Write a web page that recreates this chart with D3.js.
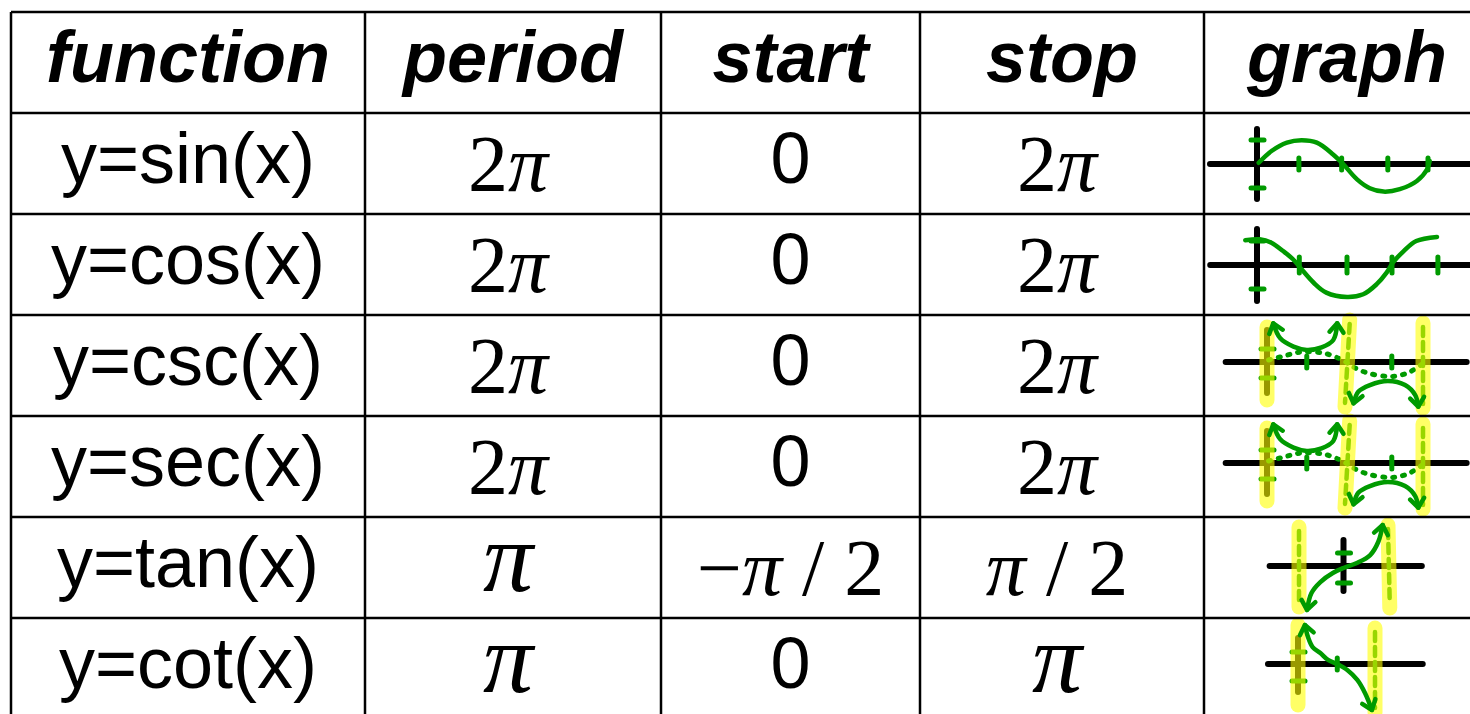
<!DOCTYPE html>
<html>
<head>
<meta charset="utf-8">
<script src="https://cdn.jsdelivr.net/npm/d3@7"></script>
<style>
  body { margin: 0; background: #fff; overflow: hidden; }
  text { white-space: pre; }
</style>
</head>
<body>
<div id="holder"></div>
<script>
const w = 1470;
const h = 714;

// TABLE DATA
const headers = ["function", "period", "start", "stop", "graph"];
const functions = ["y=sin(x)", "y=cos(x)", "y=csc(x)", "y=sec(x)", "y=tan(x)", "y=cot(x)"];
const periods = ["2π", "2π", "2π", "2π", "π", "π"];
const starts = ["0", "0", "0", "0", "−π / 2", "0"];
const stops = ["2π", "2π", "2π", "2π", "π / 2", "π"];

// SKETCH DATA (x in multiples of π, y in function units)
const sinCurve = [[0.02,0.05],[0.17,0.54],[0.35,0.89],[0.52,0.99],[0.70,0.89],[0.89,0.40],[1.01,-0.01],
  [1.17,-0.64],[1.32,-1.01],[1.48,-1.15],[1.67,-1.05],[1.87,-0.71],[1.99,-0.22],[2.02,0.13]];
const sinXTicks = [0.49, 0.99, 1.53, 2.0];
const sinYTicks = [1, -1];

const cosCurve = [[-0.13,1.03],[0.03,1.07],[0.16,0.93],[0.29,0.58],[0.40,0.24],[0.48,-0.11],[0.63,-0.74],
  [0.77,-1.15],[1.0,-1.33],[1.18,-1.22],[1.33,-0.8],[1.44,-0.32],[1.51,0.1],[1.63,0.58],[1.77,1.0],[2.0,1.17]];
const cosXTicks = [0.47, 1.0, 1.5, 2.01];
const cosYTicks = [1, -1];

// csc and sec were drawn the same way in the picture
const cscGuide = [[0.02,0.14],[0.21,0.4],[0.42,0.68],[0.72,0.62],[0.98,0.1],[1.09,-0.3],[1.28,-0.74],
  [1.58,-1.0],[1.81,-0.74],[2.0,-0.1]];
const cscUpper = [[0.08,2.67],[0.17,1.63],[0.34,1.06],[0.51,0.83],[0.7,1.01],[0.85,1.52],[0.9,2.67]];
const cscLower = [[1.11,-2.85],[1.17,-2.05],[1.32,-1.59],[1.55,-1.31],[1.77,-1.59],[1.9,-2.28],[1.94,-3.08]];
const cscXTicks = [0.51, 1.6];
const cscYTicks = [0.9, -1.1];
const cscBars = [[0, 2.41, 0, -2.62], [1.06, 2.9, 1.0, -3.1], [2.0, 2.69, 2.0, -3.17]];

const tanCurve = [[-0.41,-2.93],[-0.36,-1.8],[-0.26,-1.07],[-0.12,-0.47],[0,-0.13],[0.15,0.2],
  [0.3,0.73],[0.39,1.6],[0.44,2.73]];
const tanXTicks = [];
const tanYTicks = [0.87, -1.13];
const tanBars = [[-0.5, 2.6, -0.5, -2.73], [0.5, 2.73, 0.52, -2.8]];

const cotCurve = [[0.09,2.69],[0.13,1.86],[0.19,1.17],[0.29,0.76],[0.39,0.28],[0.51,0],[0.64,-0.41],
  [0.77,-1.1],[0.87,-2.0],[0.96,-3.17]];
const cotXTicks = [0.51];
const cotYTicks = [0.83, -1.17];
const cotBars = [[0, 2.69, 0, -2.83], [1.0, 2.48, 1.0, -3.31]];

// LAYOUT
const colEdges = [11, 365, 661, 920, 1204, 1490];
const tableTop = 12;
const rowStep = 101;
const green = "#009a00";

// where each little sketch sits inside its cell
const sketches = [
  { xDomain: [0, 2], xRange: [1257, 1428], yZero: 51, yUnit: 24, axisX: [-0.55, 2.5], yAxis: [1.46, -1.46],
    curves: [{ pts: sinCurve }], xTicks: sinXTicks, yTicks: sinYTicks, bars: [], tickLen: 6 },
  { xDomain: [0, 2], xRange: [1257, 1437], yZero: 51, yUnit: 24, axisX: [-0.52, 2.4], yAxis: [1.5, -1.5],
    curves: [{ pts: cosCurve }], xTicks: cosXTicks, yTicks: cosYTicks, bars: [], tickLen: 8 },
  { xDomain: [0, 2], xRange: [1267, 1423], yZero: 47, yUnit: 14.5, axisX: [-0.53, 2.56], yAxis: [2.2, -2.13],
    curves: [{ pts: cscGuide, dotted: true }, { pts: cscUpper, arrows: true }, { pts: cscLower, arrows: true }],
    xTicks: cscXTicks, yTicks: cscYTicks, bars: cscBars, axisBar: 0, tickLen: 6 },
  { xDomain: [0, 2], xRange: [1267, 1423], yZero: 47, yUnit: 14.5, axisX: [-0.53, 2.56], yAxis: [2.2, -2.13],
    curves: [{ pts: cscGuide, dotted: true }, { pts: cscUpper, arrows: true }, { pts: cscLower, arrows: true }],
    xTicks: cscXTicks, yTicks: cscYTicks, bars: cscBars, axisBar: 0, tickLen: 6 },
  { xDomain: [-0.5, 0.5], xRange: [1299, 1388], yZero: 49, yUnit: 15, axisX: [-0.83, 0.88], yAxis: [1.73, -1.67],
    curves: [{ pts: tanCurve, arrows: true }], xTicks: tanXTicks, yTicks: tanYTicks, bars: tanBars, tickLen: 6 },
  { xDomain: [0, 1], xRange: [1298, 1375], yZero: 46, yUnit: 14.5, axisX: [-0.39, 1.62], yAxis: [1.79, -1.93],
    curves: [{ pts: cotCurve, arrows: true }], xTicks: cotXTicks, yTicks: cotYTicks, bars: cotBars, axisBar: 0, tickLen: 6 }
];

// CREATE SVG
const svg = d3.select("#holder")
  .append("svg")
  .attr("width", w)
  .attr("height", h);

const rowY = d3.scaleBand()
  .domain(d3.range(7))
  .range([tableTop, tableTop + 7 * rowStep]);

const colMid = i => (colEdges[i] + colEdges[i + 1]) / 2;

// arrow head for the sketches
svg.append("defs").append("marker")
  .attr("id", "arrow")
  .attr("viewBox", "-14 -14 28 28")
  .attr("markerWidth", 28)
  .attr("markerHeight", 28)
  .attr("markerUnits", "userSpaceOnUse")
  .attr("orient", "auto-start-reverse")
  .append("path")
  .attr("d", "M-9,-7L0,0L-9,7")
  .attr("fill", "none")
  .attr("stroke", green)
  .attr("stroke-width", 4.5)
  .attr("stroke-linecap", "round")
  .attr("stroke-linejoin", "round");

// HEADER
svg.append("g")
  .selectAll("text")
  .data(headers)
  .enter()
  .append("text")
  .attr("x", (d, i) => colMid(i))
  .attr("y", rowY(0) + 70)
  .attr("text-anchor", "middle")
  .style("font-family", "'Liberation Sans', Arial, sans-serif")
  .style("font-weight", "bold")
  .style("font-style", "italic")
  .style("font-size", "72px")
  .text(d => d);

// function names
svg.append("g")
  .selectAll("text")
  .data(functions)
  .enter()
  .append("text")
  .attr("x", colMid(0))
  .attr("y", (d, i) => rowY(i + 1) + 70)
  .attr("text-anchor", "middle")
  .style("font-family", "'Liberation Sans', Arial, sans-serif")
  .style("font-size", "72px")
  .text(d => d);

// math cells: pi in italic serif, "0" in sans
function mathCell(values, col) {
  const t = svg.append("g")
    .selectAll("text")
    .data(values)
    .enter()
    .append("text")
    .attr("text-anchor", "middle")
    .attr("x", col === 2 ? colMid(col) : colMid(col) - 5)
    .attr("y", (d, i) => rowY(i + 1) + (d === "0" ? 70 : d === "π" ? 74 : 78))
    .style("font-family", d => d === "0" ? "'Liberation Sans', Arial, sans-serif" : "'Liberation Serif', 'Times New Roman', serif")
    .style("font-size", d => d === "0" ? "72px" : d === "π" ? "100px" : "80px");

  t.selectAll("tspan")
    .data(d => d.split(/(π)/).filter(s => s.length))
    .enter()
    .append("tspan")
    .style("font-style", s => s === "π" ? "italic" : "normal")
    .text(s => s);
}
mathCell(periods, 1);
mathCell(starts, 2);
mathCell(stops, 3);

// SKETCHES
const lineGen = (x, y) => d3.line()
  .x(d => x(d[0]))
  .y(d => y(d[1]))
  .curve(d3.curveCatmullRom.alpha(0.5));

sketches.forEach((s, i) => {
  const top = rowY(i + 1);
  const x = d3.scaleLinear().domain(s.xDomain).range(s.xRange);
  const y = d3.scaleLinear().domain([-1, 1]).range([top + s.yZero + s.yUnit, top + s.yZero - s.yUnit]);
  const g = svg.append("g").attr("class", "sketch");
  const line = lineGen(x, y);

  // x axis
  g.append("line")
    .attr("x1", x(s.axisX[0])).attr("x2", Math.min(x(s.axisX[1]), w + 10))
    .attr("y1", y(0)).attr("y2", y(0))
    .attr("stroke", "#000").attr("stroke-width", 6).attr("stroke-linecap", "round");

  // y axis
  g.append("line")
    .attr("x1", x(0)).attr("x2", x(0))
    .attr("y1", y(s.yAxis[0])).attr("y2", y(s.yAxis[1]))
    .attr("stroke", "#000").attr("stroke-width", 6).attr("stroke-linecap", "round");

  // ticks
  g.selectAll(".yt")
    .data(s.yTicks)
    .enter()
    .append("line")
    .attr("x1", x(0) - 6).attr("x2", x(0) + 7)
    .attr("y1", d => y(d)).attr("y2", d => y(d))
    .attr("stroke", green).attr("stroke-width", 5).attr("stroke-linecap", "round");

  g.selectAll(".xt")
    .data(s.xTicks)
    .enter()
    .append("line")
    .attr("x1", d => x(d)).attr("x2", d => x(d))
    .attr("y1", y(0) - s.tickLen).attr("y2", y(0) + s.tickLen)
    .attr("stroke", green).attr("stroke-width", 5).attr("stroke-linecap", "round");

  // dashed asymptotes
  g.selectAll(".asym")
    .data(s.bars.filter((b, k) => k !== s.axisBar))
    .enter()
    .append("line")
    .attr("x1", d => x(d[0])).attr("y1", d => y(d[1]) + 4)
    .attr("x2", d => x(d[2])).attr("y2", d => y(d[3]) - 4)
    .attr("stroke", green).attr("stroke-width", 4.5)
    .attr("stroke-dasharray", "9,6").attr("stroke-linecap", "round");

  // dotted guide curves
  s.curves.filter(c => c.dotted).forEach(c => {
    g.append("path")
      .attr("d", line(c.pts))
      .attr("fill", "none")
      .attr("stroke", green).attr("stroke-width", 5)
      .attr("stroke-dasharray", "2,8").attr("stroke-linecap", "round");
  });

  // yellow highlighter over the asymptotes
  g.selectAll(".bar")
    .data(s.bars)
    .enter()
    .append("line")
    .attr("x1", d => x(d[0])).attr("y1", d => y(d[1]))
    .attr("x2", d => x(d[2])).attr("y2", d => y(d[3]))
    .attr("stroke", "#ffff00").attr("stroke-opacity", 0.6)
    .attr("stroke-width", 15).attr("stroke-linecap", "round");

  // solid curves
  s.curves.filter(c => !c.dotted).forEach(c => {
    const p = g.append("path")
      .attr("d", line(c.pts))
      .attr("fill", "none")
      .attr("stroke", green).attr("stroke-width", 4.5)
      .attr("stroke-linecap", "round");
    if (c.arrows) p.attr("marker-start", "url(#arrow)").attr("marker-end", "url(#arrow)");
  });
});

// GRID
const grid = svg.append("g");
grid.selectAll(".hl")
  .data(d3.range(8))
  .enter()
  .append("line")
  .attr("x1", colEdges[0]).attr("x2", colEdges[5])
  .attr("y1", i => tableTop + i * rowStep).attr("y2", i => tableTop + i * rowStep)
  .attr("stroke", "#000").attr("stroke-width", 2.5);

grid.selectAll(".vl")
  .data(colEdges)
  .enter()
  .append("line")
  .attr("x1", d => d).attr("x2", d => d)
  .attr("y1", tableTop).attr("y2", tableTop + 7 * rowStep)
  .attr("stroke", "#000").attr("stroke-width", 2.5);
</script>
</body>
</html>
